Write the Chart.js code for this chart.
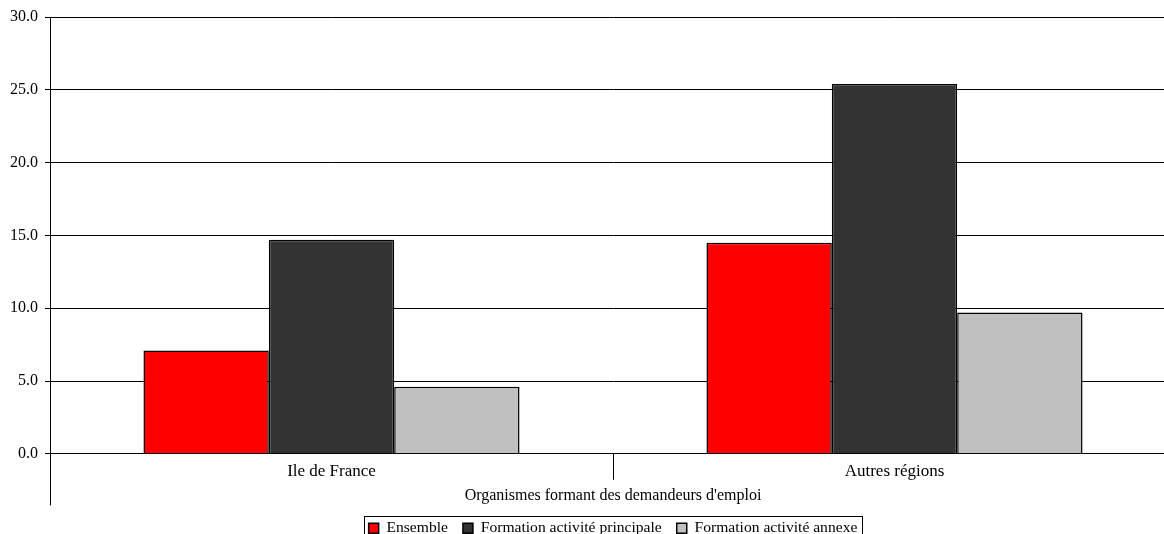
<!DOCTYPE html>
<html>
<head>
<meta charset="utf-8">
<script src="https://cdn.jsdelivr.net/npm/chart.js@4.4.0/dist/chart.umd.min.js"></script>
<style>
  html, body { margin: 0; padding: 0; background: #fff; overflow: hidden; }
  #wrap { width: 1164px; height: 534px; overflow: hidden; }
</style>
</head>
<body>
<!-- le graphique déborde un peu à droite, comme dans l'original -->
<div id="wrap"><canvas id="chart" width="1176" height="534"></canvas></div>
<script>
// categories and series
const categories = ['Ile de France', 'Autres régions'];
const ensemble = [7.1, 14.5];
const activitePrincipale = [14.7, 25.4];
const activiteAnnexe = [4.6, 9.7];
const yTicks = { min: 0, max: 30, step: 5 };
const axisTitle = "Organismes formant des demandeurs d'emploi";

const serif = 'Liberation Serif';

// petit cadre autour de la légende + prolongement de l'axe vertical
const excelLook = {
  id: 'excelLook',
  afterDraw(chart) {
    const ctx = chart.ctx;
    const area = chart.chartArea;
    const xs = chart.scales.x;
    ctx.save();
    ctx.strokeStyle = '#000';
    ctx.lineWidth = 1;
    ctx.beginPath();
    ctx.moveTo(Math.round(area.left) + 0.5, area.bottom);
    ctx.lineTo(Math.round(area.left) + 0.5, xs.bottom);
    ctx.stroke();

    const lg = chart.legend;
    if (lg && lg.legendHitBoxes && lg.legendHitBoxes.length) {
      const boxes = lg.legendHitBoxes;
      const l = Math.min(...boxes.map(b => b.left)) - 5;
      const r = Math.max(...boxes.map(b => b.left + b.width)) + 4;
      const t = Math.min(...boxes.map(b => b.top)) - 4;
      ctx.strokeRect(Math.round(l) + 0.5, Math.round(t) + 0.5, Math.round(r - l), 40);
    }
    ctx.restore();
  }
};

new Chart(document.getElementById('chart'), {
  type: 'bar',
  data: {
    labels: categories,
    datasets: [
      { label: 'Ensemble', data: ensemble, backgroundColor: '#ff0000' },
      { label: 'Formation activité principale', data: activitePrincipale, backgroundColor: '#333333' },
      { label: 'Formation activité annexe', data: activiteAnnexe, backgroundColor: '#c0c0c0' }
    ].map(d => Object.assign(d, {
      borderColor: '#000',
      borderWidth: 1.5,
      categoryPercentage: 0.668,
      barPercentage: 1
    }))
  },
  options: {
    responsive: false,
    animation: false,
    layout: { padding: { top: 17, right: 0, left: 0, bottom: -12 } },
    plugins: {
      legend: {
        position: 'bottom',
        fullSize: false,
        labels: {
          font: { family: serif, size: 15.6 },
          color: '#000',
          boxWidth: 10,
          boxHeight: 10,
          padding: 15
        }
      },
      tooltip: { enabled: false }
    },
    scales: {
      x: {
        offset: true,
        grid: { offset: true, drawOnChartArea: false, tickLength: 26, color: '#000' },
        border: { display: true, color: '#000' },
        ticks: { font: { family: serif, size: 17 }, color: '#000', padding: -18, maxRotation: 0 },
        title: { display: true, text: axisTitle, font: { family: serif, size: 16 }, color: '#000', padding: { top: 22, bottom: 0 } }
      },
      y: {
        min: yTicks.min,
        max: yTicks.max,
        afterFit(scale) { scale.width = 50; },
        grid: { color: '#000', tickLength: 5 },
        border: { display: true, color: '#000' },
        ticks: {
          stepSize: yTicks.step,
          font: { family: serif, size: 16 },
          color: '#000',
          padding: 7,
          callback: v => v.toFixed(1)
        }
      }
    }
  },
  plugins: [excelLook]
});
</script>
</body>
</html>
